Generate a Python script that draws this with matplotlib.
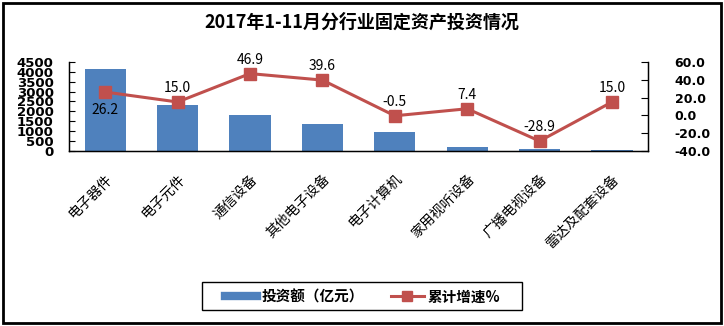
import matplotlib
matplotlib.use("Agg")
import matplotlib.pyplot as plt
from matplotlib.patches import Rectangle
from matplotlib.lines import Line2D

plt.rcParams['font.family'] = ['Noto Sans CJK SC', 'DejaVu Sans']

categories = ["电子器件", "电子元件", "通信设备", "其他电子设备", "电子计算机",
              "家用视听设备", "广播电视设备", "雷达及配套设备"]
investment = [4150, 2330, 1820, 1370, 960, 180, 80, 25]
growth = [26.2, 15.0, 46.9, 39.6, -0.5, 7.4, -28.9, 15.0]
left_ticks = list(range(0, 4501, 500))
right_ticks = [-40, -20, 0, 20, 40, 60]

bar_color = "#4F81BD"
line_color = "#C0504D"

fig = plt.figure(figsize=(7.24, 3.26), dpi=100)
ax = fig.add_axes([0.0953, 0.537, 0.8, 0.273])
x = list(range(len(categories)))
ax.bar(x, investment, width=0.57, color=bar_color, zorder=2)
ax.set_xlim(-0.5, len(categories) - 0.5)
ax.set_ylim(0, 4500)
ax.set_yticks(left_ticks)
ax.set_yticklabels([str(v) for v in left_ticks], fontweight="bold", fontsize=9.5,
                   family=['DejaVu Sans'])
ax.tick_params(axis="y", direction="in", length=4, pad=11)
ax.set_xticks(x)
ax.set_xticklabels(categories, rotation=45, ha="right", rotation_mode="anchor",
                   fontsize=10)
ax.tick_params(axis="x", length=0, pad=15)
ax.spines["top"].set_visible(False)
for s in ["left", "bottom", "right"]:
    ax.spines[s].set_linewidth(1.0)

ax2 = ax.twinx()
ax2.plot(x, growth, color=line_color, lw=2.2, marker="s", markersize=8, zorder=3)
ax2.set_ylim(-40, 60)
ax2.set_yticks(right_ticks)
ax2.set_yticklabels([f"{v:.1f}" for v in right_ticks], fontweight="bold", fontsize=9,
                    family=['DejaVu Sans'])
ax2.tick_params(axis="y", direction="in", length=5, pad=19)
ax2.spines["top"].set_visible(False)

for i, v in enumerate(growth):
    if i == 0:
        ax2.annotate(f"{v:.1f}", (i, v), xytext=(0, -8), textcoords="offset points",
                     ha="center", va="top", fontsize=10)
    else:
        ax2.annotate(f"{v:.1f}", (i, v), xytext=(0, 5), textcoords="offset points",
                     ha="center", va="bottom", fontsize=10)

fig.text(0.5, 0.933, "2017年1-11月分行业固定资产投资情况", ha="center", va="center",
         fontsize=13, fontweight="bold")

# legend: entries without their own frame, boxed by a rectangle
handles = [Line2D([0], [0], color=bar_color, lw=6),
           Line2D([0], [0], color=line_color, lw=2.2, marker="s", markersize=7)]
leg = fig.legend(handles, ["投资额（亿元）", "累计增速%"], loc="center",
                 bbox_to_anchor=(0.501, 0.091), ncol=2, frameon=False,
                 prop={"weight": "bold", "size": 10.5},
                 handlelength=2.2, handletextpad=0.3, columnspacing=1.9)
W, H = 724, 326
fig.patches.append(Rectangle((202 / W, 1 - 310 / H), 320 / W, 28 / H,
                             transform=fig.transFigure, fill=False,
                             edgecolor="black", lw=1.0))

fig.patches.append(Rectangle((0.004, 0.008), 0.992, 0.984, transform=fig.transFigure,
                             fill=False, edgecolor="black", lw=2))

fig.savefig("out.png", dpi=100)
